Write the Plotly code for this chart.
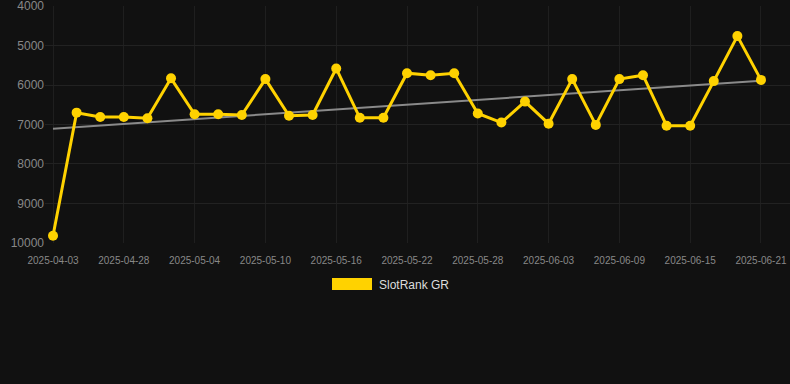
import plotly.graph_objects as go

dates = ["2025-04-03", "2025-04-24", "2025-04-26", "2025-04-28", "2025-04-30", "2025-05-02",
         "2025-05-04", "2025-05-06", "2025-05-08", "2025-05-10", "2025-05-12", "2025-05-14",
         "2025-05-16", "2025-05-18", "2025-05-20", "2025-05-22", "2025-05-24", "2025-05-26",
         "2025-05-28", "2025-05-30", "2025-06-01", "2025-06-03", "2025-06-05", "2025-06-07",
         "2025-06-09", "2025-06-11", "2025-06-13", "2025-06-15", "2025-06-17", "2025-06-19",
         "2025-06-21"]
ranks = [9820, 6700, 6810, 6810, 6840, 5830, 6740, 6740, 6760, 5850, 6780, 6760,
         5580, 6830, 6830, 5700, 5750, 5700, 6720, 6950, 6420, 6980, 5850, 7010,
         5850, 5750, 7030, 7030, 5900, 4760, 5870]
trend_x = [dates[0], dates[-1]]
trend_y = [7105, 5890]
tick_dates = dates[::3]
y_ticks = [4000, 5000, 6000, 7000, 8000, 9000, 10000]
series_name = "SlotRank GR"

gold = "#FFD200"

fig = go.Figure()
fig.add_trace(go.Scatter(
    x=trend_x, y=trend_y, mode="lines",
    line=dict(color="#8a8a8a", width=2), showlegend=False, hoverinfo="skip"))
fig.add_trace(go.Scatter(
    x=dates, y=ranks, mode="lines+markers", name=series_name,
    line=dict(color=gold, width=3), marker=dict(color=gold, size=10),
    showlegend=False))

fig.update_layout(
    width=790, height=384,
    paper_bgcolor="#111111", plot_bgcolor="#111111",
    margin=dict(l=45, r=0, t=6, b=141),
    font=dict(family="Liberation Sans, Arial, sans-serif", color="#888888"),
    showlegend=False,
    xaxis=dict(
        type="category", categoryorder="array", categoryarray=dates,
        range=[-0.34, 31.23],
        tickmode="array", tickvals=tick_dates, ticktext=tick_dates,
        tickfont=dict(size=10, color="#888888"),
        ticklabelstandoff=10,
        showgrid=True, gridcolor="#1f1f1f", gridwidth=1,
        zeroline=False, showline=False, ticks="",
    ),
    yaxis=dict(
        range=[10003, 3997], tickmode="array", tickvals=y_ticks,
        ticktext=[str(v) for v in y_ticks],
        tickfont=dict(size=12, color="#888888"),
        ticklabeloverflow="allow",
        showgrid=True, gridcolor="#222222", gridwidth=1,
        zeroline=False, showline=False, ticks="",
    ),
    shapes=[dict(type="rect", xref="paper", yref="paper",
                 x0=(332 - 45) / 745, x1=(372 - 45) / 745,
                 y0=(243 - 290) / 237, y1=(243 - 278) / 237,
                 fillcolor=gold, line=dict(width=0))],
    annotations=[dict(text=series_name, xref="paper", yref="paper",
                      x=(377 - 45) / 745, y=(243 - 284.5) / 237,
                      xanchor="left", yanchor="middle", showarrow=False,
                      font=dict(size=12, color="#dddddd"))],
)

fig.write_html("out.html", config={"displayModeBar": False},
               post_script="document.body.style.margin='0';document.body.style.background='#111111';")
